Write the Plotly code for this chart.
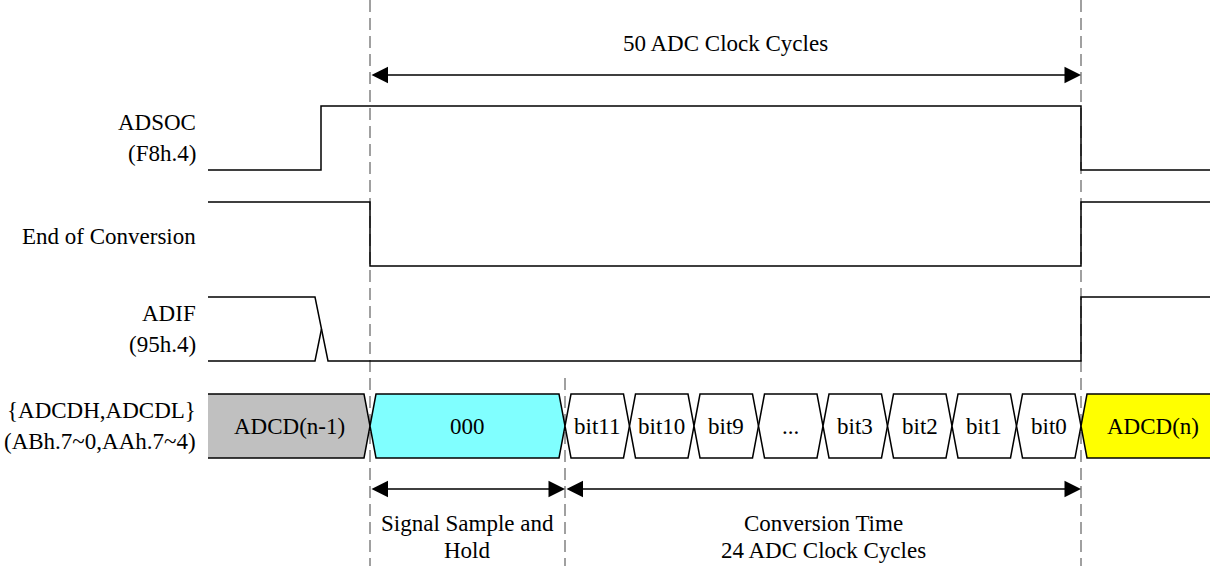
import plotly.graph_objects as go

W, H = 1210, 566
FONT = "Liberation Serif, Times New Roman, serif"
FS = 23

# ---- timing events (diagram time units) ----
T_LEFT = 208
T_SOC_RISE = 321
T_START = 370
T_SH_END = 565
T_END = 1081
T_RIGHT = 1210
T_BUS_RIGHT = 1225

# ---- rows ----
row_names = ["ADSOC", "End of Conversion", "ADIF", "{ADCDH,ADCDL}"]
row_subs = ["(F8h.4)", "", "(95h.4)", "(ABh.7~0,AAh.7~4)"]
row_mid = [138, 234, 329, 426]
row_half = 32

# ---- digital signals: (time, level) ----
adsoc_t = [208, 321, 321, 1081, 1081, 1210]
adsoc_v = [0, 0, 1, 1, 0, 0]
eoc_t = [208, 370, 370, 1081, 1081, 1210]
eoc_v = [1, 1, 0, 0, 1, 1]
adif_hi_t = [208, 315, 328, 1081, 1081, 1210]
adif_hi_v = [1, 1, 0, 0, 1, 1]
adif_lo_t = [208, 315, 321.5]
adif_lo_v = [0, 0, 0.5]

# ---- bus ----
bus_labels = ["ADCD(n-1)", "000", "bit11", "bit10", "bit9", "...",
              "bit3", "bit2", "bit1", "bit0", "ADCD(n)"]
bus_edges = [208, 370, 565, 629.5, 694, 758.5, 823, 887.5, 952, 1016.5, 1081, 1225]
bus_colors = ["#C0C0C0", "#80FFFF"] + ["#FFFFFF"] * 8 + ["#FFFF00"]
TAPER = 6

# ---- markers (dashed guides): (time, y_from, y_to) ----
guide_t = [370, 1081, 565]
guide_y0 = [0, 0, 378]
guide_y1 = [566, 566, 566]

# ---- dimension arrows: (t_from, t_to, y) ----
arrow_t0 = [370, 370, 565]
arrow_t1 = [1081, 565, 1081]
arrow_y = [75, 489, 489]

# ---- captions ----
cap_text = ["50 ADC Clock Cycles", "Signal Sample and", "Hold",
            "Conversion Time", "24 ADC Clock Cycles"]
cap_t = [(370 + 1081) / 2, (370 + 565) / 2, (370 + 565) / 2,
         (565 + 1081) / 2, (565 + 1081) / 2]
cap_y = [43, 523, 550, 523, 550]


def lvl(row, v):
    return row_mid[row] - (v - 0.5) * 2 * row_half


fig = go.Figure()
LINE = dict(color="black", width=1.5)

# dashed guides
for t, y0, y1 in zip(guide_t, guide_y0, guide_y1):
    fig.add_trace(go.Scatter(x=[t, t], y=[y0, y1], mode="lines",
                             line=dict(color="#A0A0A0", width=2, dash="12px,6px"),
                             hoverinfo="skip", showlegend=False))

# digital signals
sig = [(0, adsoc_t, adsoc_v), (1, eoc_t, eoc_v), (2, adif_hi_t, adif_hi_v), (2, adif_lo_t, adif_lo_v)]
for row, ts, vs in sig:
    fig.add_trace(go.Scatter(x=ts, y=[lvl(row, v) for v in vs], mode="lines",
                             line=LINE, hoverinfo="skip", showlegend=False))

# bus segments
top, bot, mid = lvl(3, 1), lvl(3, 0), row_mid[3]
n = len(bus_labels)
annotations = []
for i in range(n):
    x0, x1 = bus_edges[i], bus_edges[i + 1]
    tl, tr = i > 0, i < n - 1
    xl = x0 + TAPER if tl else x0
    xr = x1 - TAPER if tr else x1
    pts = []
    if tl:
        pts.append((x0, mid))
    pts += [(xl, top), (xr, top)]
    if tr:
        pts.append((x1, mid))
    pts += [(xr, bot), (xl, bot)]
    if tl:
        pts.append((x0, mid))
    xs = [p[0] for p in pts]
    ys = [p[1] for p in pts]
    fig.add_trace(go.Scatter(x=xs, y=ys, mode="lines", fill="toself",
                             fillcolor=bus_colors[i], line=dict(width=0),
                             hoverinfo="skip", showlegend=False))
    fig.add_trace(go.Scatter(x=xs, y=ys, mode="lines", line=LINE,
                             hoverinfo="skip", showlegend=False))
    annotations.append(dict(x=(x0 + x1) / 2, y=mid, xref="x", yref="y",
                            text=bus_labels[i], showarrow=False,
                            font=dict(family=FONT, size=FS, color="black")))

# row labels
for i in range(4):
    if row_subs[i]:
        ys = [row_mid[i] - 15.5, row_mid[i] + 15.5]
        txt = [row_names[i], row_subs[i]]
    else:
        ys = [row_mid[i] + 2]
        txt = [row_names[i]]
    for y, t in zip(ys, txt):
        annotations.append(dict(x=198, y=y, xref="x", yref="y", text=t,
                                xanchor="right", showarrow=False,
                                font=dict(family=FONT, size=FS, color="black")))

# captions
for t, x, y in zip(cap_text, cap_t, cap_y):
    annotations.append(dict(x=x, y=y, xref="x", yref="y", text=t, showarrow=False,
                            font=dict(family=FONT, size=FS, color="black")))

# arrows
for a0, a1, y in zip(arrow_t0, arrow_t1, arrow_y):
    annotations.append(dict(x=a1, y=y, ax=a0, ay=y, xref="x", yref="y",
                            axref="x", ayref="y", text="", showarrow=True,
                            arrowhead=2, startarrowhead=2, arrowside="end+start",
                            arrowwidth=1.5, arrowsize=2.2, startarrowsize=2.2,
                            arrowcolor="black", standoff=0, startstandoff=0))

fig.update_layout(
    width=W, height=H,
    margin=dict(l=0, r=0, t=0, b=0),
    paper_bgcolor="white", plot_bgcolor="white",
    xaxis=dict(range=[0, W], visible=False, fixedrange=True),
    yaxis=dict(range=[H, 0], visible=False, fixedrange=True),
    annotations=annotations,
    showlegend=False,
)

fig.write_html("out.html", config={"displayModeBar": False},
               post_script="document.body.style.margin='0';")
